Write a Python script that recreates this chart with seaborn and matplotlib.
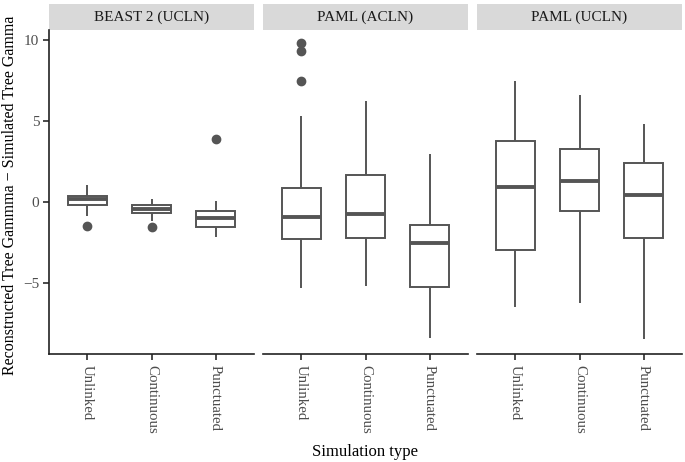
import numpy as np
import pandas as pd
import matplotlib
matplotlib.use("Agg")
import matplotlib.pyplot as plt
from matplotlib.patches import Rectangle
import seaborn as sns

# Facets and simulation types
methods = ["BEAST 2 (UCLN)", "PAML (ACLN)", "PAML (UCLN)"]
sim_types = ["Unlinked", "Continuous", "Punctuated"]

# Reconstructed - simulated tree gamma
beast_unlinked = [-1.48, -0.86, -0.17, 0.0, 0.17, 0.25, 0.37, 0.7, 1.05]
beast_continuous = [-1.54, -1.2, -0.66, -0.5, -0.41, -0.3, -0.17, 0.0, 0.17]
beast_punctuated = [-2.18, -1.8, -1.52, -1.2, -0.99, -0.8, -0.57, 0.06, 3.9]
acln_unlinked = [-5.33, -4.0, -3.2, -2.6, -2.28, -1.8, -1.4, -1.1, -0.93,
                 -0.5, 0.0, 0.5, 0.86, 5.31, 7.49, 9.32, 9.8]
acln_continuous = [-5.17, -2.22, -0.76, 1.69, 6.23]
acln_punctuated = [-8.42, -5.23, -2.53, -1.4, 2.96]
ucln_unlinked = [-6.5, -2.94, 0.91, 3.74, 7.49]
ucln_continuous = [-6.25, -0.56, 1.30, 3.25, 6.62]
ucln_punctuated = [-8.44, -2.2, 0.43, 2.43, 4.8]

groups = {
    "BEAST 2 (UCLN)": [beast_unlinked, beast_continuous, beast_punctuated],
    "PAML (ACLN)": [acln_unlinked, acln_continuous, acln_punctuated],
    "PAML (UCLN)": [ucln_unlinked, ucln_continuous, ucln_punctuated],
}

rows = []
for m in methods:
    for s, vals in zip(sim_types, groups[m]):
        for v in vals:
            rows.append((m, s, v))
df = pd.DataFrame(rows, columns=["method", "sim", "value"])

sns.set_theme(style="white")
plt.rcParams["font.family"] = ["Liberation Serif", "DejaVu Serif"]

fig = plt.figure(figsize=(6.85, 4.62), dpi=100)
W, H = 685.0, 462.0
lefts = [49, 263, 477]
pw = 205
top_px, bot_px = 30, 354
strip_h = 26

line_col = "#555555"
txt_col = "#4d4d4d"

for i, m in enumerate(methods):
    ax = fig.add_axes([lefts[i] / W, 1 - bot_px / H, pw / W, (bot_px - top_px) / H])
    sub = df[df.method == m]
    sns.boxplot(data=sub, x="sim", y="value", order=sim_types, ax=ax,
                width=0.6, color="white", linecolor=line_col, linewidth=1.4,
                showcaps=False,
                medianprops={"linewidth": 2.8, "color": line_col},
                flierprops={"marker": "o", "markerfacecolor": line_col,
                            "markeredgecolor": line_col, "markersize": 6})
    ax.set_xlim(-0.6, 2.6)
    ax.set_ylim(-9.38, 10.62)
    ax.set_xlabel("")
    ax.set_ylabel("")
    for sp in ["top", "right"]:
        ax.spines[sp].set_visible(False)
    ax.spines["bottom"].set_color("#222222")
    ax.spines["bottom"].set_linewidth(1.2)
    ax.tick_params(axis="x", length=4, color="#333333", labelcolor=txt_col,
                   labelsize=10.7, bottom=True, pad=4)
    plt.setp(ax.get_xticklabels(), rotation=270, va="top", ha="center")
    if i == 0:
        ax.spines["left"].set_color("#222222")
        ax.spines["left"].set_linewidth(1.2)
        ax.set_yticks([-5, 0, 5, 10])
        ax.tick_params(axis="y", length=4, color="#333333", labelcolor=txt_col,
                       labelsize=11, left=True, pad=3)
    else:
        ax.spines["left"].set_visible(False)
        ax.set_yticks([])
    # facet strip
    sh = strip_h / (bot_px - top_px)
    ax.add_patch(Rectangle((0, 1.0), 1, sh, transform=ax.transAxes,
                           facecolor="#d9d9d9", edgecolor="none", clip_on=False))
    ax.text(0.5, 1.0 + sh / 2, m, transform=ax.transAxes, ha="center",
            va="center", fontsize=11, color="#1a1a1a")

fig.text(365 / W, 1 - 452 / H, "Simulation type", ha="center", va="center",
         fontsize=12, color="black")
fig.text(10 / W, 1 - 195 / H, "Reconstructed Tree Gammma \u2212 Simulated Tree Gamma",
         rotation=90, ha="center", va="center", fontsize=11.5, color="black")

fig.savefig("out.png", dpi=100)
